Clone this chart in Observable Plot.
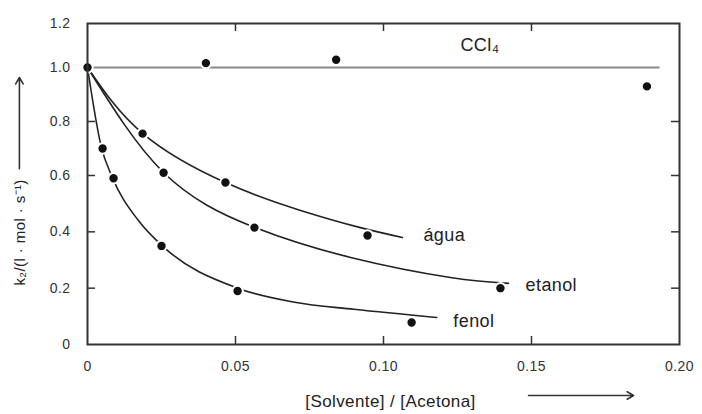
<!DOCTYPE html>
<html><head><meta charset="utf-8">
<script src="https://cdn.jsdelivr.net/npm/d3@7"></script>
<script src="https://cdn.jsdelivr.net/npm/@observablehq/plot@0.6"></script>
<style>
body{margin:0;background:#fff}
svg text{letter-spacing:0.4px}
g[aria-label="series-labels"] text{letter-spacing:1.5px}
g[aria-label="x-title"] text{letter-spacing:1.4px}
</style></head><body><div id="chart"></div>
<script>
// tick values and labels
const yTickValues = [0, 0.2, 0.4, 0.6, 0.8, 1.0, 1.2];
const yTickLabels = ["0", "0.2", "0.4", "0.6", "0.8", "1.0", "1.2"];
const yInnerTicks = [0.2, 0.4, 0.6, 0.8];
const xTickValues = [0, 0.05, 0.10, 0.15, 0.20];
const xTickLabels = ["0", "0.05", "0.10", "0.15", "0.20"];
const xInnerTicks = [0.05, 0.10, 0.15];

// measured points
const originX = [0], originY = [1.0];
const cclX = [0.040, 0.084, 0.189], cclY = [1.02, 1.035, 0.93];
const aguaX = [0.0186, 0.0466, 0.0946], aguaY = [0.755, 0.575, 0.387];
const etanolX = [0.0257, 0.0564, 0.1395], etanolY = [0.61, 0.415, 0.20];
const fenolX = [0.0051, 0.0088, 0.025, 0.0507, 0.1095], fenolY = [0.70, 0.59, 0.35, 0.19, 0.078];

// fitted curves as drawn in the figure
const cclLineX = [0, 0.193], cclLineY = [1.0, 1.0];
const aguaCurveX = [0, 0.0186, 0.0466, 0.072, 0.0922, 0.1064];
const aguaCurveY = [1.0, 0.756, 0.575, 0.476, 0.415, 0.38];
const etanolCurveX = [0, 0.0257, 0.0557, 0.0889, 0.1226, 0.1422];
const etanolCurveY = [1.0, 0.611, 0.419, 0.309, 0.238, 0.217];
const fenolCurveX = [0, 0.0047, 0.0084, 0.0172, 0.0253, 0.0507, 0.070, 0.090, 0.118];
const fenolCurveY = [1.0, 0.704, 0.593, 0.44, 0.35, 0.20, 0.15, 0.125, 0.096];

// series labels
const labelText = ["CCl₄", "água", "etanol", "fenol"];
const labelX = [0.126, 0.1135, 0.148, 0.1236];
const labelY = [1.10, 0.387, 0.21, 0.082];

// axis title (y) and axis arrows (annotation)
const yTitleText = ["k₂/(l · mol · s⁻¹)"], yTitleX = [-0.0226], yTitleY = [0.398];
const arrowX1 = [0.149, -0.023], arrowY1 = [-0.181, 0.625];
const arrowX2 = [0.1845, -0.023], arrowY2 = [-0.181, 0.963];

const toRows = (xs, ys, extra = {}) => xs.map((x, i) => ({x, y: ys[i], ...extra}));
const points = [
  ...toRows(originX, originY),
  ...toRows(cclX, cclY),
  ...toRows(aguaX, aguaY),
  ...toRows(etanolX, etanolY),
  ...toRows(fenolX, fenolY)
];
const smoothCurves = [
  ...toRows(aguaCurveX, aguaCurveY, {s: "água"}),
  ...toRows(etanolCurveX, etanolCurveY, {s: "etanol"})
];
const fenolCurve = toRows(fenolCurveX, fenolCurveY, {s: "fenol"});
const labels = labelText.map((t, i) => ({t, x: labelX[i], y: labelY[i]}));
const yTitle = yTitleText.map((t, i) => ({t, x: yTitleX[i], y: yTitleY[i]}));
const arrows = arrowX1.map((x1, i) => ({x1, y1: arrowY1[i], x2: arrowX2[i], y2: arrowY2[i]}));

const fmtY = d => yTickLabels[yTickValues.findIndex(v => Math.abs(v - d) < 1e-9)];
const fmtX = d => xTickLabels[xTickValues.findIndex(v => Math.abs(v - d) < 1e-9)];

const W = 702, H = 414, mL = 87, mR = 23, mT = 23, mB = 70, T = 8;
const innerW = W - mL - mR, innerH = H - mT - mB;

const svg = Plot.plot({
  width: W,
  height: H,
  marginLeft: mL,
  marginRight: mR,
  marginTop: mT,
  marginBottom: mB,
  style: {fontFamily: "'Liberation Sans', Arial, sans-serif", fontSize: "14px", color: "#333", background: "#fff"},
  x: {type: "linear", domain: [0, 0.2], axis: null},
  y: {type: "linear", domain: [0, 0.6, 1.0, 1.2], range: [344, 175, 67, 23], axis: null},
  marks: [
    Plot.line(toRows(cclLineX, cclLineY), {x: "x", y: "y", stroke: "#8a8a8a", strokeWidth: 2}),
    Plot.line(smoothCurves, {x: "x", y: "y", z: "s", curve: "natural", stroke: "#222", strokeWidth: 1.6}),
    Plot.line(fenolCurve, {x: "x", y: "y", curve: "monotone-x", stroke: "#222", strokeWidth: 1.6}),
    Plot.dot(points, {x: "x", y: "y", r: 5.2, fill: "#111", stroke: "#fff", strokeWidth: 2}),
    Plot.frame({stroke: "#333", strokeWidth: 2}),
    Plot.tickY(yInnerTicks, {y: d => d, insetRight: innerW - T, stroke: "#333", strokeWidth: 1.5}),
    Plot.tickY(yInnerTicks, {y: d => d, insetLeft: innerW - T, stroke: "#333", strokeWidth: 1.5}),
    Plot.tickX(xInnerTicks, {x: d => d, insetTop: innerH - T, stroke: "#333", strokeWidth: 1.5}),
    Plot.tickX(xInnerTicks, {x: d => d, insetBottom: innerH - T, stroke: "#333", strokeWidth: 1.5}),
    Plot.axisY({ticks: yTickValues, tickSize: 0, tickPadding: 17, tickFormat: fmtY, label: null}),
    Plot.axisX({ticks: xTickValues, tickSize: 0, tickPadding: 17, tickFormat: fmtX, label: null}),
    Plot.text(labels, {x: "x", y: "y", text: "t", textAnchor: "start", fontSize: 18, fill: "#222", ariaLabel: "series-labels"}),
    Plot.text(["[Solvente] / [Acetona]"], {frameAnchor: "bottom", dx: 7, dy: 62, fontSize: 17, fill: "#222", ariaLabel: "x-title"}),
    Plot.text(yTitle, {x: "x", y: "y", text: "t", rotate: -90, fontSize: 15, fill: "#222", ariaLabel: "y-title"}),
    Plot.arrow(arrows, {x1: "x1", y1: "y1", x2: "x2", y2: "y2", stroke: "#333", strokeWidth: 1.6, headLength: 7})
  ]
});
document.getElementById("chart").appendChild(svg);

// italic k in the y title
const yt = svg.querySelector('g[aria-label="y-title"] text');
if (yt) {
  const ns = "http://www.w3.org/2000/svg";
  const full = yt.textContent;
  yt.textContent = "";
  const a = document.createElementNS(ns, "tspan");
  a.setAttribute("font-style", "italic");
  a.textContent = full.slice(0, 1);
  const b = document.createElementNS(ns, "tspan");
  b.textContent = full.slice(1);
  yt.appendChild(a); yt.appendChild(b);
}
</script></body></html>
